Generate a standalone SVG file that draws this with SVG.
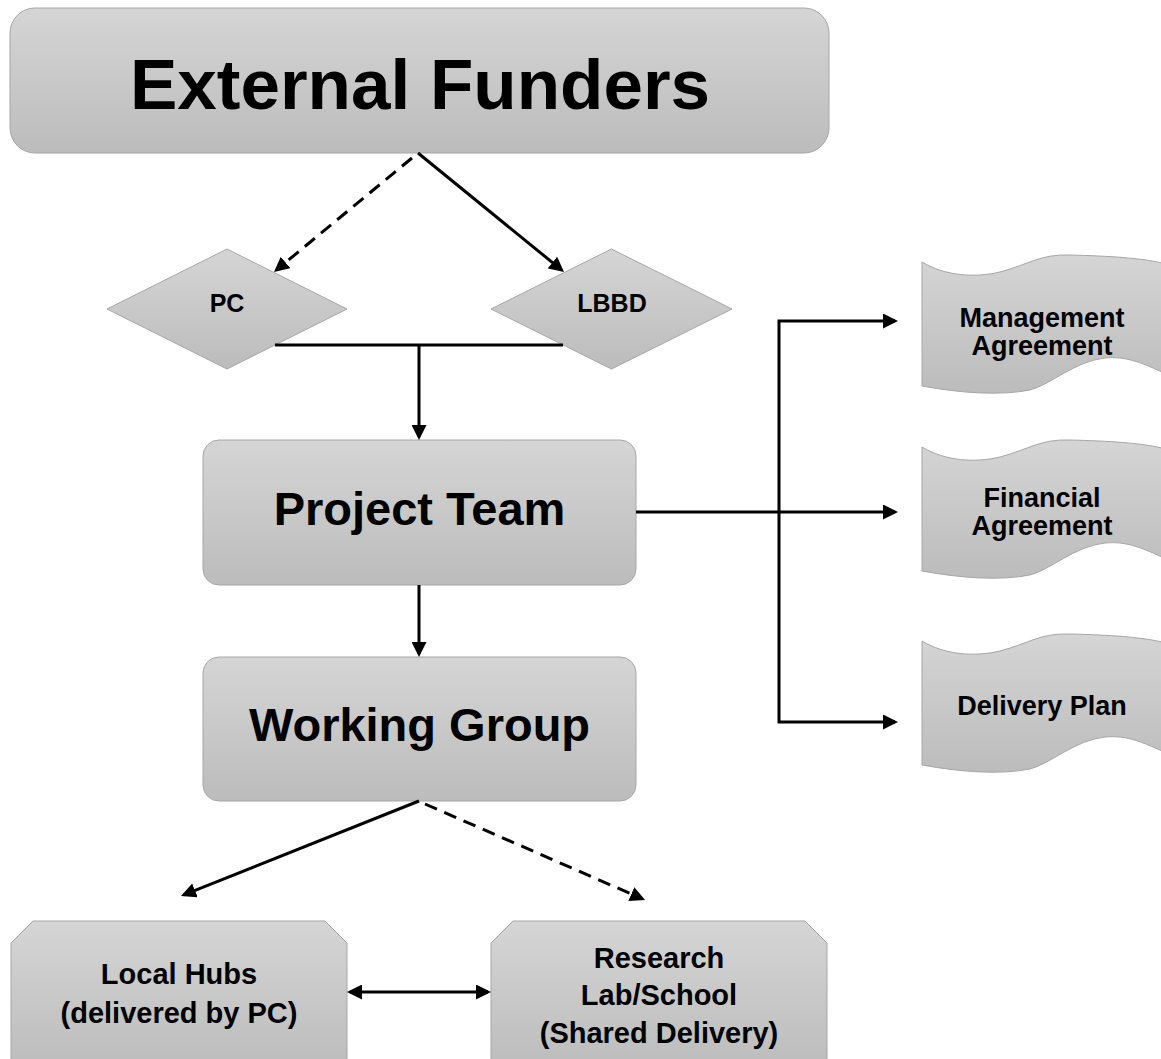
<svg xmlns="http://www.w3.org/2000/svg" width="1161" height="1059" viewBox="0 0 1161 1059">
  <defs>
    <linearGradient id="gFill" x1="0" y1="0" x2="0" y2="1">
      <stop offset="0" stop-color="#d5d5d5"/>
      <stop offset="1" stop-color="#bcbcbc"/>
    </linearGradient>
    <marker id="arrow" viewBox="0 0 10 10" refX="8" refY="5" markerWidth="15" markerHeight="15" markerUnits="userSpaceOnUse" orient="auto-start-reverse">
      <path d="M0,0 L10,5 L0,10 Z" fill="#000"/>
    </marker>
    <!-- punched-tape document outline, origin at the top of the left edge -->
    <path id="tape" d="M0,0 C23,14 53,16 78,10 C108,2 118,-8 148,-7 C188,-6 218,-4 240,1 L240,110 C218,100 203,94 183,96 C153,99 128,123 108,128 C78,134 38,131 0,124 Z"/>
  </defs>
  <style>
    .shape { fill: url(#gFill); stroke: #a6a6a6; stroke-width: 1; }
    .lbl { font-family: "Century Gothic", "Liberation Sans", Arial, sans-serif; font-weight: bold; fill: #000; text-anchor: middle; }
    .conn { fill: none; stroke: #000; stroke-width: 3; }
    .dash { stroke-dasharray: 13 8; }
    .arr { marker-end: url(#arrow); }
    .arr2 { marker-start: url(#arrow); marker-end: url(#arrow); }
  </style>

  <rect width="1161" height="1059" fill="#fff"/>

  <g id="external-funders">
    <rect class="shape" x="10" y="8" width="819" height="145" rx="25" ry="25"/>
    <text class="lbl" x="420" y="109" font-size="71">External Funders</text>
  </g>

  <g id="pc">
    <polygon class="shape" points="107,309 227,249 347,309 227,369"/>
    <text class="lbl" x="227" y="312" font-size="25">PC</text>
  </g>

  <g id="lbbd">
    <polygon class="shape" points="491,309 611.5,249 732,309 611.5,369"/>
    <text class="lbl" x="612" y="312" font-size="25">LBBD</text>
  </g>

  <g id="project-team">
    <rect class="shape" x="203" y="440" width="433" height="145" rx="16" ry="16"/>
    <text class="lbl" x="419.5" y="525" font-size="47">Project Team</text>
  </g>

  <g id="working-group">
    <rect class="shape" x="203" y="657" width="433" height="144" rx="16" ry="16"/>
    <text class="lbl" x="419.5" y="741" font-size="47">Working Group</text>
  </g>

  <g id="management-agreement">
    <use href="#tape" class="shape" transform="translate(922,262)"/>
    <text class="lbl" x="1042" y="327" font-size="27">Management</text>
    <text class="lbl" x="1042" y="355" font-size="27">Agreement</text>
  </g>

  <g id="financial-agreement">
    <use href="#tape" class="shape" transform="translate(922,447)"/>
    <text class="lbl" x="1042" y="507" font-size="27">Financial</text>
    <text class="lbl" x="1042" y="535" font-size="27">Agreement</text>
  </g>

  <g id="delivery-plan">
    <use href="#tape" class="shape" transform="translate(922,641)"/>
    <text class="lbl" x="1042" y="715" font-size="27">Delivery Plan</text>
  </g>

  <g id="local-hubs">
    <path class="shape" d="M11,943 L33,921 L325,921 L347,943 L347,1070 L11,1070 Z"/>
    <text class="lbl" x="179" y="984" font-size="29">Local Hubs</text>
    <text class="lbl" x="179" y="1023" font-size="29">(delivered by PC)</text>
  </g>

  <g id="research-lab">
    <path class="shape" d="M491,943 L513,921 L805,921 L827,943 L827,1070 L491,1070 Z"/>
    <text class="lbl" x="659" y="968" font-size="29">Research</text>
    <text class="lbl" x="659" y="1005" font-size="29">Lab/School</text>
    <text class="lbl" x="659" y="1043" font-size="29">(Shared Delivery)</text>
  </g>

  <g id="connectors">
    <!-- funders to partners -->
    <path class="conn dash arr" d="M412,158 L276.3,270.1"/>
    <path class="conn arr" d="M418,153 L561.7,270.1"/>
    <!-- partners join into project team -->
    <path class="conn" d="M275,345 H563"/>
    <path class="conn arr" d="M419,345 V437"/>
    <!-- project team to working group -->
    <path class="conn arr" d="M419,585 V654"/>
    <!-- project team to agreements and plan -->
    <path class="conn arr" d="M636,512 H895"/>
    <path class="conn arr2" d="M895,321 H779 V722 H895"/>
    <!-- working group to delivery -->
    <path class="conn arr" d="M419,801 L183.8,894.9"/>
    <path class="conn dash arr" d="M425,804 L642.3,898.8"/>
    <!-- hubs and research lab exchange -->
    <path class="conn arr2" d="M350,992 H488"/>
  </g>
</svg>
